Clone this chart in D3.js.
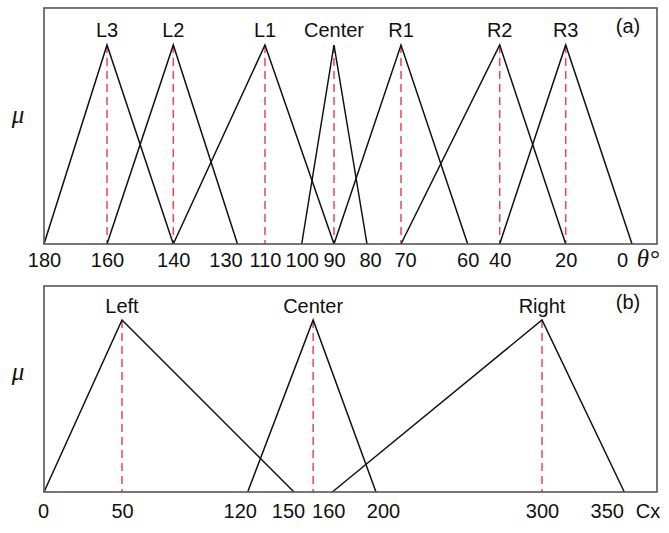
<!DOCTYPE html>
<html>
<head>
<meta charset="utf-8">
<script src="https://cdn.jsdelivr.net/npm/d3@7"></script>
<style>
    body { margin: 0; background: #ffffff; }
    text { font-family: "Liberation Sans", Arial, sans-serif; fill: #111111; }
    .tick text { font-size: 20px; }
    .set { font-size: 20px; }
    .symbol { font-family: "Liberation Serif", "Times New Roman", serif; font-style: italic; font-size: 25px; }
</style>
</head>
<body>
<script>

/*
 * Data: triangular membership functions (foot, peak, foot)
 */

// Panel (a): steering angle theta
var angleTicks = [180, 160, 140, 130, 110, 100, 90, 80, 70, 60, 40, 20, 0];
var angleSets = ["L3", "L2", "L1", "Center", "R1", "R2", "R3"];
var angleLeft = [180, 160, 140, 100, 90, 70, 40];
var anglePeak = [160, 140, 110, 90, 70, 40, 20];
var angleRight = [140, 130, 90, 80, 60, 20, 0];

// Panel (b): object centre Cx
var cxTicks = [0, 50, 120, 150, 160, 200, 300, 350];
var cxSets = ["Left", "Center", "Right"];
var cxLeft = [0, 120, 160];
var cxPeak = [50, 155, 300];
var cxRight = [150, 200, 350];


window.onload = function() {

    var svg = d3.select("body").append("svg")
        .attr("width", 669)
        .attr("height", 533);

    // The original axes are not drawn to scale, so map each tick to its place
    var angleScale = d3.scaleLinear()
        .domain(angleTicks)
        .range([44, 107, 173.3, 237.5, 265, 301.7, 334, 367, 401, 467.7, 499.7, 565.7, 632]);

    var cxScale = d3.scaleLinear()
        .domain(cxTicks)
        .range([44, 122, 247.7, 294, 332.3, 376, 542, 624.3]);

    drawPanel(svg, {
        xScale: angleScale,
        ticks: angleTicks,
        names: angleSets,
        left: angleLeft,
        peak: anglePeak,
        right: angleRight,
        top: 8,
        bottom: 244,
        peakY: 45,
        nameY: 37,
        tickY: 266.5,
        nudge: {130: -12, 80: 3, 70: 4, 0: -10},
        tag: "(a)",
        tagY: 33,
        muY: 123,
        unit: "\u03b8\u00b0",
        unitSerif: true
    });

    drawPanel(svg, {
        xScale: cxScale,
        ticks: cxTicks,
        names: cxSets,
        left: cxLeft,
        peak: cxPeak,
        right: cxRight,
        top: 286,
        bottom: 492,
        peakY: 320,
        nameY: 313,
        tickY: 518,
        nudge: {0: -1, 120: -8, 150: -6, 160: -4, 200: 7, 350: -17.5},
        tag: "(b)",
        tagY: 309,
        muY: 380,
        unit: "Cx",
        unitSerif: false
    });
};


/*
 * Draws one framed panel with its triangles, dashed peak lines and labels
 */

function drawPanel(svg, p) {

    var x0 = 44;
    var x1 = 657;

    var yScale = d3.scaleLinear()
        .domain([0, 1])
        .range([p.bottom, p.peakY]);

    var g = svg.append("g");

    // Dashed red lines from each peak down to the axis
    g.selectAll(".peakline")
        .data(p.peak)
        .enter()
        .append("line")
        .attr("x1", function(d) { return p.xScale(d); })
        .attr("x2", function(d) { return p.xScale(d); })
        .attr("y1", yScale(1))
        .attr("y2", yScale(0))
        .attr("stroke", "#e5484f")
        .attr("stroke-width", 1.5)
        .attr("stroke-dasharray", "8,5");

    // Triangles
    var line = d3.line()
        .x(function(d) { return p.xScale(d[0]); })
        .y(function(d) { return yScale(d[1]); });

    var tri = p.names.map(function(name, i) {
        return [[p.left[i], 0], [p.peak[i], 1], [p.right[i], 0]];
    });

    g.selectAll(".tri")
        .data(tri)
        .enter()
        .append("path")
        .attr("d", line)
        .attr("fill", "none")
        .attr("stroke", "#111111")
        .attr("stroke-width", 1.5)
        .attr("stroke-linejoin", "miter");

    // Set names above the peaks
    g.selectAll(".set")
        .data(p.names)
        .enter()
        .append("text")
        .attr("class", "set")
        .attr("x", function(d, i) { return p.xScale(p.peak[i]); })
        .attr("y", p.nameY)
        .attr("text-anchor", "middle")
        .text(function(d) { return d; });

    // Frame
    g.append("rect")
        .attr("x", x0)
        .attr("y", p.top)
        .attr("width", x1 - x0)
        .attr("height", p.bottom - p.top)
        .attr("fill", "none")
        .attr("stroke", "#555555")
        .attr("stroke-width", 1.6);

    // Bottom axis, labels only
    var axis = g.append("g")
        .attr("transform", `translate(0, ${p.bottom})`)
        .call(d3.axisBottom(p.xScale)
            .tickValues(p.ticks)
            .tickSize(0)
            .tickPadding(0)
            .tickFormat(d3.format("d")));

    axis.select(".domain").remove();
    axis.selectAll(".tick text")
        .attr("fill", "#111111")
        .attr("dy", null)
        .attr("y", p.tickY - p.bottom)
        .attr("dx", function(d) { return p.nudge[d] || 0; })
        .style("font-family", "Liberation Sans, Arial, sans-serif");

    // Axis unit at the right end
    g.append("text")
        .attr("class", p.unitSerif ? "symbol" : "set")
        .attr("x", 648)
        .attr("y", p.tickY)
        .attr("text-anchor", "middle")
        .text(p.unit);

    // Panel tag
    g.append("text")
        .attr("class", "set")
        .attr("x", 628)
        .attr("y", p.tagY)
        .attr("text-anchor", "middle")
        .text(p.tag);

    // Membership symbol on the left
    g.append("text")
        .attr("class", "symbol")
        .attr("x", 18)
        .attr("y", p.muY)
        .attr("text-anchor", "middle")
        .text("\u03bc");
};

</script>
</body>
</html>
